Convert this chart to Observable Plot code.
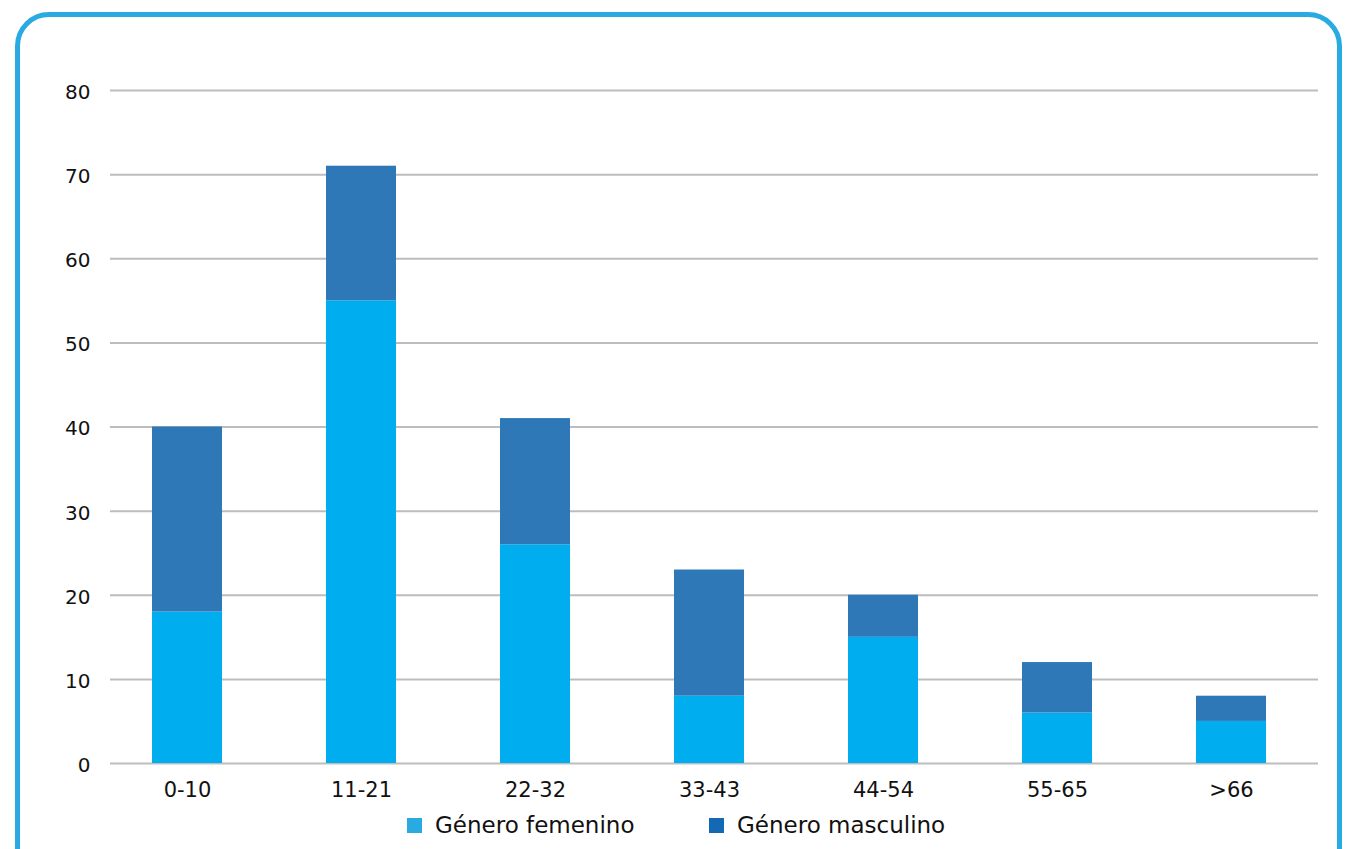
<!DOCTYPE html>
<html>
<head>
<meta charset="utf-8">
<script src="https://cdn.jsdelivr.net/npm/d3@7"></script>
<script src="https://cdn.jsdelivr.net/npm/@observablehq/plot@0.6"></script>
<style>
  html, body { margin: 0; padding: 0; background: #fff; overflow: hidden; }
  #wrap { position: relative; width: 1345px; height: 849px; font-family: "DejaVu Sans", sans-serif; }
  #frame { position: absolute; left: 15px; top: 12px; width: 1327px; height: 900px; border: 5px solid #29ABE2; border-radius: 34px; box-sizing: border-box; }
  #chart { position: absolute; left: 0; top: 0; }
  #legend { position: absolute; top: 812px; left: 0; width: 1345px; font-size: 23px; color: #111; }
  .item { position: absolute; display: flex; align-items: center; white-space: nowrap; }
  .sw { width: 15px; height: 15px; margin-right: 13px; }
</style>
</head>
<body>
<div id="wrap">
  <div id="frame"></div>
  <div id="chart"></div>
  <div id="legend"></div>
</div>
<script>
const categories = ["0-10", "11-21", "22-32", "33-43", "44-54", "55-65", ">66"];
const femenino = [18, 55, 26, 8, 15, 6, 5];
const masculino = [22, 16, 15, 15, 5, 6, 3];
const seriesNames = ["Género femenino", "Género masculino"];
const yTicks = [0, 10, 20, 30, 40, 50, 60, 70, 80];

const barColors = ["#00AEEF", "#2E78B7"];
const swatchColors = ["#29ABE2", "#1369B3"];

const data = [];
categories.forEach((c, i) => {
  data.push({cat: c, serie: seriesNames[0], value: femenino[i]});
  data.push({cat: c, serie: seriesNames[1], value: masculino[i]});
});

const chart = Plot.plot({
  width: 1345,
  height: 849,
  marginLeft: 110,
  marginRight: 27,
  marginTop: 90,
  marginBottom: 86,
  style: {fontFamily: '"DejaVu Sans", sans-serif', fontSize: "20px", color: "#111", background: "transparent"},
  x: {domain: categories, range: [100, 1318], paddingInner: 0.6, paddingOuter: 0.3, label: null},
  y: {domain: [0, 80], ticks: yTicks, label: null},
  color: {domain: seriesNames, range: barColors},
  marks: [
    Plot.ruleY(yTicks, {stroke: "#BDBDBD", strokeWidth: 2}),
    Plot.barY(data, {x: "cat", y: "value", fill: "serie", order: seriesNames, inset: 0}),
    Plot.axisX({tickSize: 0, tickPadding: 19, fontSize: 21}),
    Plot.axisY({ticks: yTicks, tickSize: 0, tickPadding: 20, fontSize: 20, dy: 2})
  ]
});
document.getElementById("chart").appendChild(chart);

const legend = document.getElementById("legend");
const lefts = [407, 709];
seriesNames.forEach((name, i) => {
  const it = document.createElement("div");
  it.className = "item";
  it.style.left = lefts[i] + "px";
  const sw = document.createElement("div");
  sw.className = "sw";
  sw.style.background = swatchColors[i];
  const tx = document.createElement("span");
  tx.textContent = name;
  it.appendChild(sw);
  it.appendChild(tx);
  legend.appendChild(it);
});
</script>
</body>
</html>
